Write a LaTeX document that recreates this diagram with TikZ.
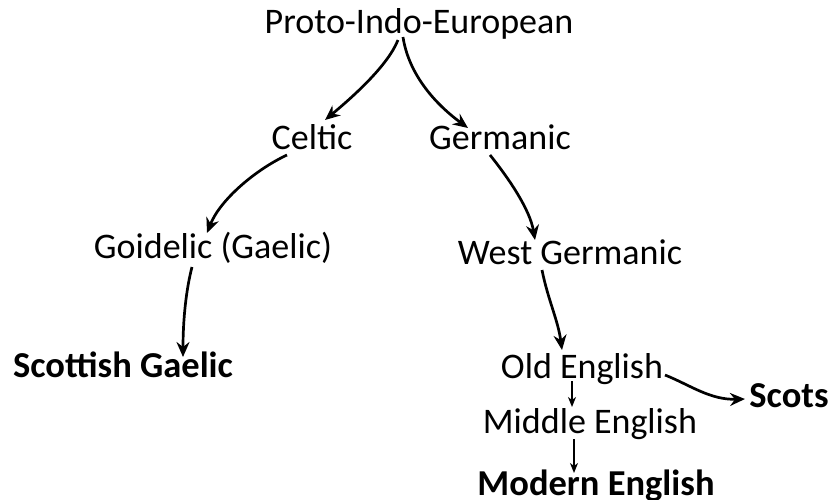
\documentclass[tikz,border=0pt]{standalone}
\usepackage{fontspec}
\setmainfont{Carlito}
\usetikzlibrary{arrows.meta,calc}
\tikzset{
  lang/.style={anchor=base,inner sep=0pt,font=\fontsize{36}{38}\selectfont},
  leaf/.style={anchor=base,inner sep=0pt,font=\fontsize{36.5}{38}\selectfont\bfseries},
  bigarrow/.style={line width=2.7pt,-{Stealth[length=15pt,width=13pt,inset=5pt]}},
  smallarrow/.style={line width=1.5pt,-{Stealth[length=10pt,width=8pt,inset=3pt]}}
}
\begin{document}
\begin{tikzpicture}[x=1pt,y=-1pt]
\useasboundingbox (0,0) rectangle (830,499);
\node[lang] (pie) at (419,33) {Proto-Indo-European};
\node[lang] (celtic) at (312,149) {Celtic};
\node[lang] (germanic) at (500,149) {Germanic};
\node[lang] (goidelic) at (213,258) {Goidelic (Gaelic)};
\node[lang] (westg) at (570,264) {West Germanic};
\node[leaf] (scotg) at (123,377) {Scottish Gaelic};
\node[lang] (olde) at (582,378) {Old English};
\node[lang] (mide) at (590,433) {Middle English};
\node[leaf] (mode) at (596,495) {Modern English};
\node[leaf] (scots) at (789,407) {Scots};
% PIE -> Celtic
\draw[bigarrow] ($(pie.base)+(-21,7)$) .. controls ($(pie.base)+(-31,32)$) and ($(pie.base)+(-64,62)$) .. ($(celtic.base)+(13,-29)$);
% PIE -> Germanic
\draw[bigarrow] ($(pie.base)+(-16,4)$) .. controls ($(pie.base)+(-11,37)$) and ($(pie.base)+(11,67)$) .. ($(germanic.base)+(-32,-21)$);
% Celtic -> Goidelic
\draw[bigarrow] ($(celtic.base)+(-25,6)$) .. controls ($(celtic.base)+(-57,21)$) and ($(celtic.base)+(-92,51)$) .. ($(goidelic.base)+(-6,-25)$);
% Germanic -> West Germanic
\draw[bigarrow] ($(germanic.base)+(-10,6)$) .. controls ($(germanic.base)+(10,31)$) and ($(germanic.base)+(30,61)$) .. ($(westg.base)+(-35,-24)$);
% Goidelic -> Scottish Gaelic
\draw[bigarrow] ($(goidelic.base)+(-21,9)$) .. controls ($(goidelic.base)+(-27,32)$) and ($(goidelic.base)+(-30,62)$) .. ($(scotg.base)+(60,-20)$);
% West Germanic -> Old English
\draw[bigarrow] ($(westg.base)+(-28,6)$) .. controls ($(westg.base)+(-22,36)$) and ($(westg.base)+(-12,56)$) .. ($(olde.base)+(-20,-28)$);
% Old English -> Middle English
\draw[smallarrow] ($(olde.base)+(-10,3)$) -- ($(mide.base)+(-18,-26)$);
% Middle English -> Modern English
\draw[smallarrow] ($(mide.base)+(-16,6)$) -- ($(mode.base)+(-22,-22)$);
% Old English -> Scots
\draw[bigarrow] ($(olde.base)+(83,-3)$) .. controls ($(olde.base)+(108,7)$) and ($(olde.base)+(128,22)$) .. ($(scots.base)+(-44,-8)$);
\end{tikzpicture}
\end{document}
